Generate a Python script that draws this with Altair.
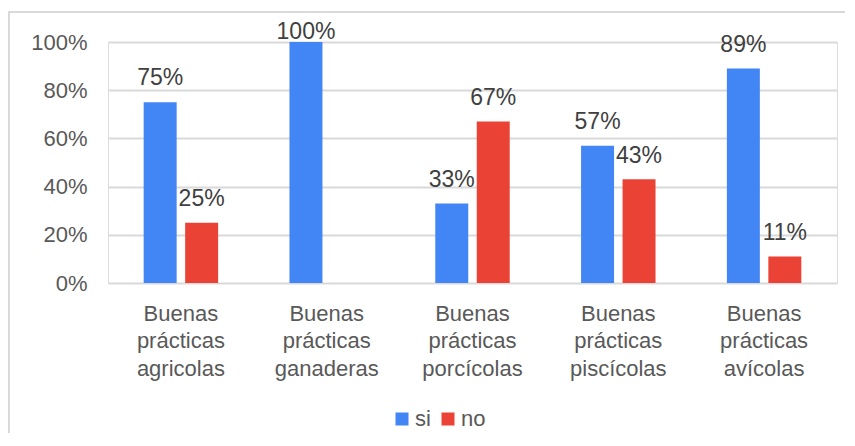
import altair as alt
import pandas as pd

categories = [
    "Buenas prácticas agricolas",
    "Buenas prácticas ganaderas",
    "Buenas prácticas porcícolas",
    "Buenas prácticas piscícolas",
    "Buenas prácticas avícolas",
]
series = ["si", "no"]
si_values = [75, 100, 33, 57, 89]
no_values = [25, 0, 67, 43, 11]
y_ticks = [0, 20, 40, 60, 80, 100]
colors = ["#4285F4", "#EA4335"]

rows = []
for c, s, n in zip(categories, si_values, no_values):
    rows.append({"categoria": c, "serie": "si", "valor": s})
    rows.append({"categoria": c, "serie": "no", "valor": n})
df = pd.DataFrame(rows)

FONT = "Liberation Sans"

x_enc = alt.X(
    "categoria:N",
    sort=categories,
    scale=alt.Scale(paddingInner=0, paddingOuter=0),
    axis=alt.Axis(
        title=None,
        labelAngle=0,
        labelExpr="split(datum.label, ' ')",
        labelFontSize=22,
        labelLineHeight=27.5,
        labelColor="#595959",
        labelFont=FONT,
        labelPadding=20,
        ticks=False,
        domain=False,
        grid=False,
    ),
)
xoff_enc = alt.XOffset(
    "serie:N",
    sort=series,
    scale=alt.Scale(paddingInner=0.205, paddingOuter=0.86),
)
y_scale = alt.Scale(domain=[0, 100], nice=False, zero=True)

bars = alt.Chart(df).mark_bar().encode(
    x=x_enc,
    xOffset=xoff_enc,
    y=alt.Y(
        "valor:Q",
        scale=y_scale,
        axis=alt.Axis(
            title=None,
            values=y_ticks,
            labelExpr="datum.value + '%'",
            labelFontSize=22,
            labelColor="#595959",
            labelFont=FONT,
            labelPadding=21,
            ticks=False,
            domain=False,
            gridColor="#d9d9d9",
            gridWidth=2,
        ),
    ),
    color=alt.Color(
        "serie:N",
        sort=series,
        scale=alt.Scale(domain=series, range=colors),
        legend=alt.Legend(
            title=None,
            orient="none",
            legendX=283,
            legendY=366,
            direction="horizontal",
            symbolType="square",
            symbolSize=169,
            symbolStrokeWidth=0,
            labelFontSize=22,
            labelFont=FONT,
            labelColor="#595959",
            labelOffset=2,
            columnPadding=6,
            padding=0,
        ),
    ),
)

labels = (
    alt.Chart(df)
    .transform_filter("datum.valor > 0")
    .transform_calculate(
        ly="min(datum.valor + 7, 101.2)",
        txt="datum.valor + '%'",
    )
    .mark_text(baseline="alphabetic", fontSize=23, font=FONT, color="#404040")
    .encode(
        x=alt.X("categoria:N", sort=categories),
        xOffset=alt.XOffset("serie:N", sort=series),
        y=alt.Y("ly:Q", scale=y_scale),
        text="txt:N",
    )
)

border_left = alt.Chart(df).mark_rule(color="#d9d9d9", strokeWidth=2).encode(
    x=alt.value(-99), y=alt.value(-30), y2=alt.value(400)
)
border_top = alt.Chart(df).mark_rule(color="#d9d9d9", strokeWidth=2).encode(
    x=alt.value(-100), x2=alt.value(760), y=alt.value(-30)
)

chart = (
    alt.layer(border_left, border_top, bars, labels)
    .properties(
        width=729,
        height=241,
        autosize=alt.AutoSizeParams(type="none"),
        padding={"left": 100, "top": 34, "right": 8, "bottom": 150},
    )
    .configure_view(stroke=None)
    .configure(font=FONT)
)

chart.save("out.html", embed_options={"renderer": "svg", "actions": False})
